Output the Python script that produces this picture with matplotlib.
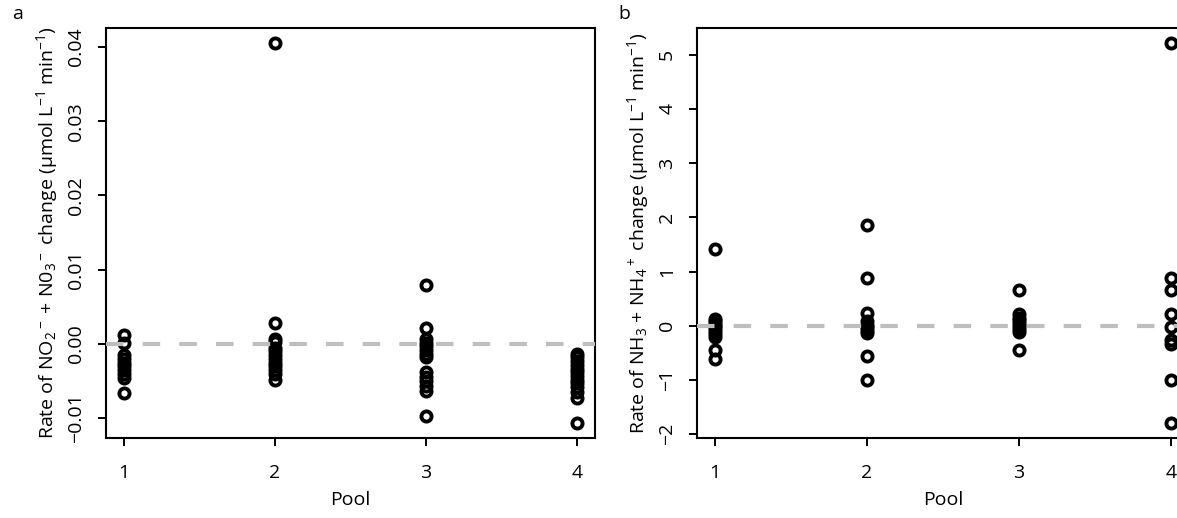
import matplotlib
matplotlib.use("Agg")
import matplotlib.pyplot as plt
import numpy as np

plt.rcParams["font.family"] = ["Open Sans", "DejaVu Sans"]
plt.rcParams["mathtext.fontset"] = "custom"
plt.rcParams["mathtext.rm"] = "Open Sans"
plt.rcParams["mathtext.it"] = "Open Sans:italic"
plt.rcParams["mathtext.bf"] = "Open Sans:bold"

# panel a: NO2- + NO3- rate per pool
no_pool1 = [0.0012, 0.0001, -0.0015, -0.0020, -0.0025, -0.0030, -0.0035, -0.0040, -0.0046, -0.0066]
no_pool2 = [0.0405, 0.0028, 0.0007, 0.0003, -0.0005, -0.0010, -0.0015, -0.0020, -0.0025,
            -0.0030, -0.0035, -0.0040, -0.0049]
no_pool3 = [0.0079, 0.0021, 0.0007, 0.0002, -0.0003, -0.0008, -0.0013, -0.0017, -0.0038,
            -0.0045, -0.0050, -0.0056, -0.0063, -0.0097]
no_pool4 = [-0.0013, -0.0018, -0.0023, -0.0028, -0.0033, -0.0038, -0.0043, -0.0048, -0.0053,
            -0.0058, -0.0064, -0.0073, -0.0106]

# panel b: NH3 + NH4+ rate per pool
nh_pool1 = [1.42, 0.12, 0.08, 0.03, 0.0, -0.05, -0.10, -0.15, -0.20, -0.45, -0.62]
nh_pool2 = [1.86, 0.88, 0.24, 0.08, 0.02, -0.03, -0.08, -0.13, -0.55, -1.0]
nh_pool3 = [0.65, 0.22, 0.15, 0.10, 0.05, 0.0, -0.06, -0.12, -0.44]
nh_pool4 = [5.21, 0.88, 0.66, 0.22, -0.02, -0.27, -0.33, -1.0, -1.79]

pools = [1, 2, 3, 4]
no_ticks = [-0.01, 0.00, 0.01, 0.02, 0.03, 0.04]
no_ticklabels = ["\u22120.01", "0.00", "0.01", "0.02", "0.03", "0.04"]
nh_ticks = [-2, -1, 0, 1, 2, 3, 4, 5]
nh_ticklabels = ["\u22122", "\u22121", "0", "1", "2", "3", "4", "5"]

W, H = 1177, 518
fs = 14
fig = plt.figure(figsize=(W / 100, H / 100), dpi=100)
ax_a = fig.add_axes([106 / W, 1 - 438 / H, 489 / W, 410 / H])
ax_b = fig.add_axes([697 / W, 1 - 438 / H, 492 / W, 410 / H])


def panel(ax, groups, ticks, ticklabels, ylabel):
    for p, vals in zip(pools, groups):
        ax.plot([p] * len(vals), vals, "o", mfc="none", mec="black", mew=2.8, ms=7.3,
                clip_on=False, zorder=2)
    allv = np.concatenate(groups)
    lo, hi = allv.min(), allv.max()
    pad = (hi - lo) * 0.04
    ax.set_ylim(lo - pad, hi + pad)
    ax.set_xlim(0.88, 4.12)
    ax.axhline(0, color="#bebebe", lw=3.0, dashes=[4.2, 4.6], zorder=3)
    ax.set_xticks(pools)
    ax.set_xticklabels([str(p) for p in pools])
    ax.set_yticks(ticks)
    ax.set_yticklabels(ticklabels)
    ax.tick_params(direction="out", length=6, width=1.4, labelsize=fs, pad=13)
    ax.tick_params(axis="y", pad=9)
    for lab in ax.get_yticklabels():
        lab.set_rotation(90)
        lab.set_va("center")
    for s in ax.spines.values():
        s.set_linewidth(1.5)
    ax.set_xlabel("Pool", fontsize=fs, labelpad=6)
    ax.set_ylabel(ylabel, fontsize=fs, labelpad=5)


panel(ax_a, [no_pool1, no_pool2, no_pool3, no_pool4], no_ticks, no_ticklabels,
      r"Rate of NO$_2$$^-$ + N0$_3$$^-$ change (µmol L$^{-1}$ min$^{-1}$)")
panel(ax_b, [nh_pool1, nh_pool2, nh_pool3, nh_pool4], nh_ticks, nh_ticklabels,
      r"Rate of NH$_3$ + NH$_4$$^+$ change (µmol L$^{-1}$ min$^{-1}$)")

fig.text(12 / W, 1 - 14 / H, "a", fontsize=fs, va="center")
fig.text(618 / W, 1 - 14 / H, "b", fontsize=fs, va="center")

fig.savefig("out.png", dpi=100)
